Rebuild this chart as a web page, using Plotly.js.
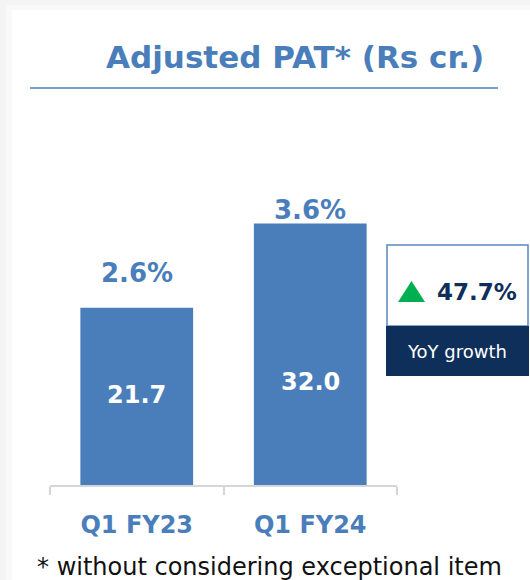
<!DOCTYPE html>
<html>
<head>
<meta charset="utf-8">
<script src="https://cdn.plot.ly/plotly-3.0.1.min.js"></script>
<style>html,body{margin:0;padding:0;background:#fff;}#chart{width:530px;height:580px;}</style>
</head>
<body>
<div id="chart"></div>
<script>
var categories = ["Q1 FY23", "Q1 FY24"];
var patValues = [21.7, 32.0];
var valueLabels = ["21.7", "32.0"];
var marginLabels = ["2.6%", "3.6%"];
var yoyGrowth = "47.7%";
var yoyLabel = "YoY growth";
var titleText = "Adjusted PAT* (Rs cr.)";
var footnote = "* without considering exceptional item";

var W = 530, H = 580;
function px(x){ return x / W; }
function py(y){ return 1 - y / H; }

var blue = "#4a7ebb";
var navy = "#0f2f5b";
var FONT = "DejaVu Sans, sans-serif";

var trace = {
  type: "bar",
  x: categories,
  y: patValues,
  width: 0.65,
  marker: {color: blue},
  hoverinfo: "none"
};

// label positions (data units) chosen to match the reference placement
var valueLabelY = [11.0, 12.6];
var marginLabelY = [26.0, 33.7];

var annotations = [];
categories.forEach(function(c, i){
  annotations.push({x: c, y: valueLabelY[i], xref: "x", yref: "y", text: valueLabels[i],
    xanchor: "center", yanchor: "middle",
    showarrow: false, font: {family: FONT, size: 24, color: "#ffffff", weight: "bold"}});
  annotations.push({x: c, y: marginLabelY[i], xref: "x", yref: "y", text: marginLabels[i],
    xanchor: "center", yanchor: "middle",
    showarrow: false, font: {family: FONT, size: 26, color: blue, weight: "bold"}});
});
function paperText(x, y, text, font, xanchor){
  annotations.push({x: px(x), y: py(y), xref: "paper", yref: "paper", text: text,
    xanchor: xanchor || "center", yanchor: "middle", showarrow: false, font: font});
}
paperText(295, 57, titleText, {family: FONT, size: 31, color: blue, weight: "bold"});
paperText(477, 292, yoyGrowth, {family: FONT, size: 23, color: navy, weight: "bold"});
paperText(457, 351, yoyLabel, {family: FONT, size: 18, color: "#ffffff"});
paperText(35, 567, footnote, {family: FONT, size: 24, color: "#111111"}, "left");

var shapes = [
  // shadow gradient + white card
  {type: "rect", xref: "paper", yref: "paper", x0: 0, x1: 1, y0: 0, y1: 1, fillcolor: "#f4f4f4", line: {width: 0}, layer: "below"},
  {type: "rect", xref: "paper", yref: "paper", x0: px(6), x1: 1, y0: 0, y1: py(5), fillcolor: "#f9f9f9", line: {width: 0}, layer: "below"},
  {type: "rect", xref: "paper", yref: "paper", x0: px(12), x1: 1, y0: 0, y1: py(10), fillcolor: "#ffffff", line: {width: 0}, layer: "below"},
  // title underline
  {type: "line", xref: "paper", yref: "paper", x0: px(30), x1: px(498), y0: py(88), y1: py(88), line: {color: blue, width: 1.5}},
  // YoY box
  {type: "rect", xref: "paper", yref: "paper", x0: px(387), x1: px(528), y0: py(326), y1: py(245), fillcolor: "#ffffff", line: {color: "#5b86c0", width: 1.5}},
  {type: "rect", xref: "paper", yref: "paper", x0: px(386), x1: px(529), y0: py(376), y1: py(326), fillcolor: navy, line: {width: 0}},
  // green up triangle
  {type: "path", xref: "paper", yref: "paper",
   path: "M " + px(398) + " " + py(302) + " L " + px(425) + " " + py(302) + " L " + px(411.5) + " " + py(281) + " Z",
   fillcolor: "#00b050", line: {width: 0}}
];

var layout = {
  width: W, height: H,
  margin: {l: 0, r: 0, t: 0, b: 0},
  paper_bgcolor: "#ffffff",
  plot_bgcolor: "rgba(0,0,0,0)",
  showlegend: false,
  xaxis: {
    domain: [px(50), px(397)],
    type: "category",
    showline: true, linecolor: "#d6d6d6", linewidth: 2,
    ticks: "outside", tickson: "boundaries", ticklen: 8, tickcolor: "#d6d6d6", tickwidth: 2,
    ticklabelstandoff: 17,
    tickfont: {family: FONT, size: 24, color: blue, weight: "bold"},
    showgrid: false, zeroline: false, fixedrange: true
  },
  yaxis: {
    domain: [py(485), py(199)],
    range: [0, 35],
    visible: false, showgrid: false, zeroline: false, fixedrange: true
  },
  shapes: shapes,
  annotations: annotations,
  bargap: 0.35
};

Plotly.newPlot("chart", [trace], layout, {displayModeBar: false, staticPlot: true});
</script>
</body>
</html>
